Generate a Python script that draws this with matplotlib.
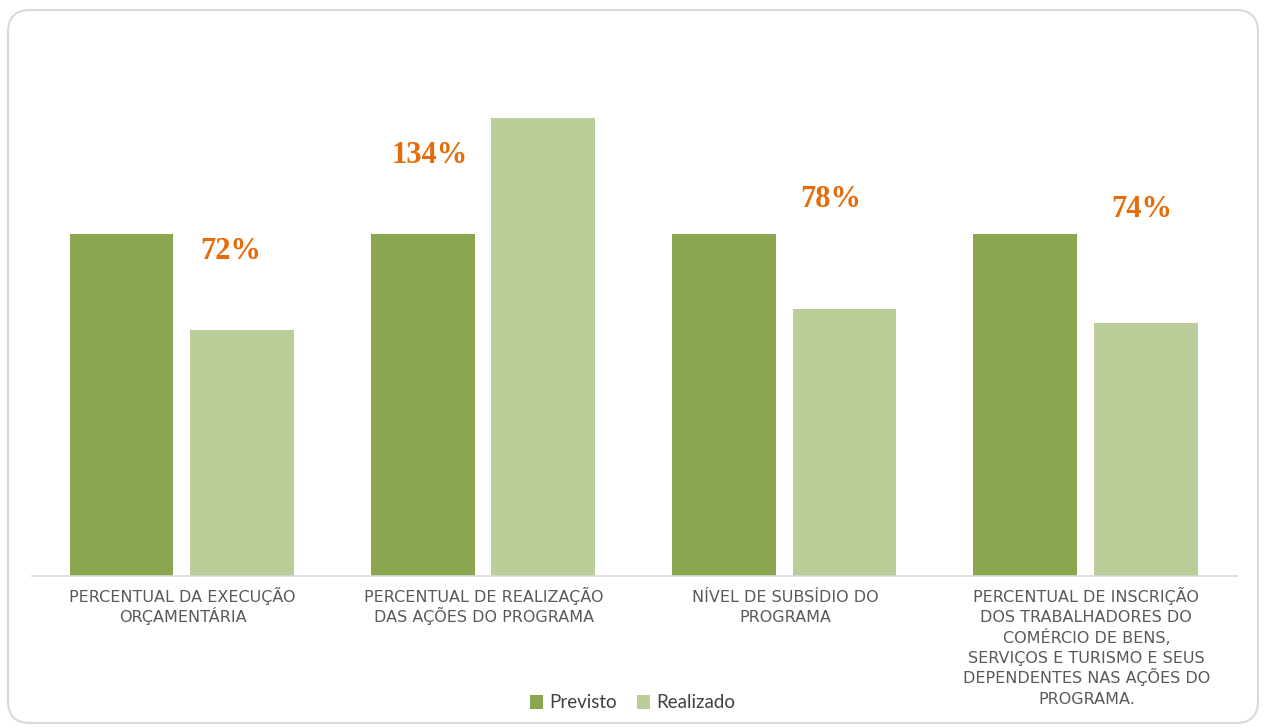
import numpy as np
import matplotlib
matplotlib.use('Agg')
import matplotlib.pyplot as plt
from matplotlib.patches import FancyBboxPatch

# data
categories = ['PERCENTUAL DA EXECUÇÃO\nORÇAMENTÁRIA',
              'PERCENTUAL DE REALIZAÇÃO\nDAS AÇÕES DO PROGRAMA',
              'NÍVEL DE SUBSÍDIO DO\nPROGRAMA',
              'PERCENTUAL DE INSCRIÇÃO\nDOS TRABALHADORES DO\nCOMÉRCIO DE BENS,\nSERVIÇOS E TURISMO E SEUS\nDEPENDENTES NAS AÇÕES DO\nPROGRAMA.']
previsto = [100, 100, 100, 100]
realizado = [72, 134, 78, 74]
value_labels = ['72%', '134%', '78%', '74%']

# label placement (offsets from realizado bar, in data units)
lab_dx = [-0.04, -0.38, -0.05, -0.015]
lab_dy = [23, -11, 32, 33]

c_prev = '#8aa64f'
c_real = '#bbcd99'

fig = plt.figure(figsize=(12.65, 7.27), dpi=100)

# rounded frame around chart
frame = FancyBboxPatch((8, 4), 1250, 713, boxstyle='round,pad=0,rounding_size=22',
                       transform=None, facecolor='none', edgecolor='#d9d9d9',
                       linewidth=1.5, zorder=-1)
fig.patches.append(frame)

ax = fig.add_axes([32/1265, 151/727, 1205/1265, 496/727])
ax.patch.set_alpha(0)

x = np.arange(len(categories))
w = 0.345
ax.bar(x - 0.203, previsto, w, color=c_prev, label='Previsto')
ax.bar(x + 0.197, realizado, w, color=c_real, label='Realizado')

for i, t in enumerate(value_labels):
    ax.text(x[i] + 0.2 + lab_dx[i], realizado[i] + lab_dy[i], t,
            ha='center', va='center', fontsize=22, fontweight='bold',
            family='Liberation Serif', color='#e46c0a')

ax.set_xlim(-0.5, 3.5)
ax.set_ylim(0, 145)
ax.set_yticks([])
ax.set_xticks([])
for s in ['top', 'right', 'left']:
    ax.spines[s].set_visible(False)
ax.spines['bottom'].set_color('#d9d9d9')
ax.spines['bottom'].set_linewidth(1.2)

# category labels, one line at a time so the line pitch stays even
for i, c in enumerate(categories):
    for k, line in enumerate(c.split('\n')):
        ax.annotate(line, xy=(x[i], 0), xycoords='data',
                    xytext=(0, -(26 + 20.3 * k) * 0.72), textcoords='offset points',
                    ha='center', va='baseline', fontsize=11.5,
                    color='#595959', family='DejaVu Sans')

fig.legend(loc='center', bbox_to_anchor=(0.5, 24/727), ncol=2, frameon=False,
           handlelength=0.7, handleheight=0.7, handletextpad=0.3,
           columnspacing=1.1, labelcolor='#404040', prop={'family': 'Lato', 'size': 13.5})

fig.savefig('out.png', dpi=100, facecolor='white')
